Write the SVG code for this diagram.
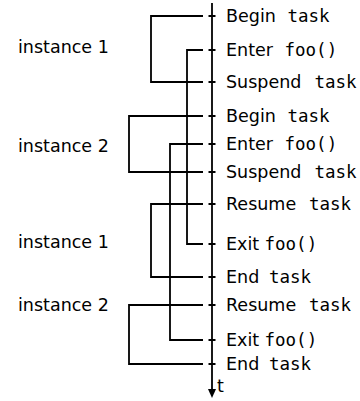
<svg xmlns="http://www.w3.org/2000/svg" width="360" height="401" viewBox="0 0 360 401">
<style>
.ln{fill:none;stroke:#000;stroke-width:1.8}
.lb{font-family:"DejaVu Sans",sans-serif;font-size:17.5px;fill:#000}
.mn{font-family:"DejaVu Sans Mono",monospace}
</style>
<rect width="360" height="401" fill="#fff"/>
<g id="timeline">
<line class="ln" x1="212" y1="3" x2="212" y2="390"/>
<polygon points="208,389 216,389 212,398" fill="#000"/>
<text class="lb" x="217" y="392">t</text>
</g>
<g id="ticks" class="ln">
<path d="M208.5 16H215.5M208.5 50H215.5M208.5 82H215.5M208.5 116H215.5M208.5 144H215.5M208.5 172H215.5M208.5 204H215.5M208.5 244H215.5M208.5 277H215.5M208.5 305H215.5M208.5 340H215.5M208.5 364H215.5"/>
</g>
<g id="connectors" class="ln">
<path d="M203 16H151V82H203"/>
<path d="M203 50H187V244H203"/>
<path d="M203 116H129V172H203"/>
<path d="M203 144H170V340H203"/>
<path d="M203 204H151V277H203"/>
<path d="M203 305H129V364H203"/>
</g>
<g id="events" class="lb">
<text x="226" y="22">Begin<tspan class="mn" x="287.5">task</tspan></text>
<text x="226" y="56">Enter<tspan class="mn" x="284.5">foo()</tspan></text>
<text x="226" y="88">Suspend<tspan class="mn" x="314.5">task</tspan></text>
<text x="226" y="122">Begin<tspan class="mn" x="287.5">task</tspan></text>
<text x="226" y="150">Enter<tspan class="mn" x="284.5">foo()</tspan></text>
<text x="226" y="178">Suspend<tspan class="mn" x="314.5">task</tspan></text>
<text x="226" y="210">Resume<tspan class="mn" x="309">task</tspan></text>
<text x="226" y="250">Exit<tspan class="mn" x="264.5">foo()</tspan></text>
<text x="226" y="283">End<tspan class="mn" x="269">task</tspan></text>
<text x="226" y="311">Resume<tspan class="mn" x="309">task</tspan></text>
<text x="226" y="346">Exit<tspan class="mn" x="264.5">foo()</tspan></text>
<text x="226" y="370">End<tspan class="mn" x="269">task</tspan></text>
</g>
<g id="instances" class="lb">
<text x="18" y="53">instance 1</text>
<text x="18" y="152">instance 2</text>
<text x="18" y="248">instance 1</text>
<text x="18" y="311">instance 2</text>
</g>
</svg>
